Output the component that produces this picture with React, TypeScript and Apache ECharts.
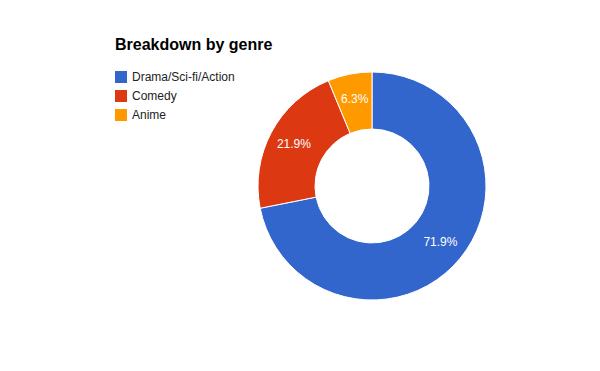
import React, { useEffect, useRef } from "react";
import * as echarts from "echarts";

const titleText = "Breakdown by genre";
const categories = ["Drama/Sci-fi/Action", "Comedy", "Anime"];
const values = [23, 7, 2];
const colors = ["#3366cc", "#dc3912", "#ff9900"];

const FONT = "'Liberation Sans', Arial, sans-serif";

export default function App() {
  const ref = useRef<HTMLDivElement>(null);
  useEffect(() => {
    document.body.style.margin = "0";
    const chart = echarts.init(ref.current!, undefined, { renderer: "svg" });
    const total = values.reduce((a, b) => a + b, 0);
    chart.setOption({
      animation: false,
      backgroundColor: "#ffffff",
      color: colors,
      graphic: [
        {
          type: "text",
          left: 115,
          top: 36,
          style: {
            text: titleText,
            fontFamily: FONT,
            fontSize: 16,
            fontWeight: "bold",
            fill: "#000000",
          },
        },
      ],
      legend: {
        orient: "vertical",
        left: 115,
        top: 71,
        padding: 0,
        icon: "rect",
        itemWidth: 12,
        itemHeight: 12,
        itemGap: 7,
        selectedMode: false,
        itemStyle: { borderWidth: 0 },
        textStyle: { fontFamily: FONT, fontSize: 12, lineHeight: 12, color: "#222222" },
        data: categories,
      },
      series: [
        {
          type: "pie",
          center: [372, 186],
          radius: [57, 114],
          startAngle: 90,
          clockwise: true,
          avoidLabelOverlap: false,
          emphasis: { disabled: true },
          itemStyle: { borderColor: "#ffffff", borderWidth: 1 },
          label: {
            show: true,
            position: "inside",
            color: "#ffffff",
            fontFamily: FONT,
            fontSize: 12,
            formatter: (p: any) => ((p.value / total) * 100).toFixed(1) + "%",
          },
          labelLine: { show: false },
          data: categories.map((name, i) => ({ name, value: values[i] })),
        },
      ],
    });
    return () => chart.dispose();
  }, []);
  return <div ref={ref} style={{ width: 600, height: 371 }} />;
}
